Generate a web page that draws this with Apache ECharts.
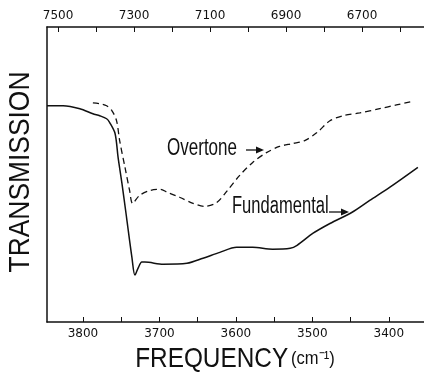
<!DOCTYPE html>
<html>
<head>
<meta charset="utf-8">
<script src="https://cdn.jsdelivr.net/npm/echarts@6/dist/echarts.min.js"></script>
<style>html,body{margin:0;padding:0;background:#fff}#c{width:424px;height:372px}</style>
</head>
<body>
<div id="c"></div>
<script>
// Fundamental (solid) — frequency in cm^-1 and relative transmission
const fundX = [3847, 3826, 3804, 3787, 3778, 3769, 3765, 3758, 3754, 3749, 3743, 3736, 3732, 3728, 3723, 3719, 3695, 3664, 3643, 3621, 3599, 3578, 3552, 3529, 3520, 3499, 3477, 3448, 3425, 3399, 3362];
const fundY = [73.3, 73.3, 72.3, 70.6, 69.9, 68.9, 67.6, 63.9, 55.7, 47.0, 35.5, 22.0, 15.9, 18.2, 20.3, 20.3, 19.6, 19.9, 21.6, 23.6, 25.3, 25.3, 24.7, 25.0, 26.0, 30.1, 33.4, 37.2, 41.2, 45.6, 52.4];
// Overtone (dashed)
const overX = [3787, 3778, 3769, 3762, 3756, 3752, 3745, 3739, 3735, 3726, 3712, 3699, 3690, 3673, 3656, 3641, 3625, 3611, 3595, 3578, 3560, 3543, 3526, 3510, 3494, 3477, 3460, 3438, 3412, 3390, 3370];
const overY = [74.3, 74.0, 73.3, 71.6, 68.2, 61.5, 52.4, 44.6, 40.2, 42.9, 44.6, 45.0, 44.0, 42.2, 40.2, 39.2, 40.5, 44.6, 49.7, 54.1, 57.4, 59.5, 60.5, 61.5, 64.2, 68.2, 69.9, 70.9, 72.3, 73.6, 74.7];
// Axis ticks / labels
const bottomTicks = [3400, 3450, 3500, 3550, 3600, 3650, 3700, 3750, 3800];
const bottomLabels = [3400, 3500, 3600, 3700, 3800];
const topTicks = [6600, 6700, 6800, 6900, 7000, 7100, 7200, 7300, 7400, 7500];
const topLabels = [6700, 6900, 7100, 7300, 7500];

const ink = '#111';
const fund = fundX.map((x, i) => [x, fundY[i]]);
const over = overX.map((x, i) => [x, overY[i]]);

const chart = echarts.init(document.getElementById('c'), null, {renderer: 'canvas'});
chart.setOption({
  animation: false,
  backgroundColor: '#fff',
  grid: {left: 47, right: 0, top: 27, bottom: 50},
  xAxis: [{
    type: 'value', position: 'bottom', min: 3354, max: 3847, inverse: true,
    axisLine: {show: true, lineStyle: {color: ink, width: 1.5}},
    axisTick: {show: true, inside: true, length: 5, customValues: bottomTicks, lineStyle: {color: ink, width: 1}},
    axisLabel: {show: true, customValues: bottomLabels, formatter: v => String(v), color: ink, fontFamily: 'DejaVu Sans', fontSize: 12, margin: 6},
    splitLine: {show: false}
  }, {
    type: 'value', position: 'top', min: 6537, max: 7529, inverse: true,
    axisLine: {show: true, lineStyle: {color: ink, width: 1.5}},
    axisTick: {show: true, inside: true, length: 5, customValues: topTicks, lineStyle: {color: ink, width: 1}},
    axisLabel: {show: true, customValues: topLabels, formatter: v => String(v), color: ink, fontFamily: 'DejaVu Sans', fontSize: 12, margin: 5},
    splitLine: {show: false}
  }],
  yAxis: {
    type: 'value', min: 0, max: 100,
    axisLine: {show: true, lineStyle: {color: ink, width: 1.5}},
    axisTick: {show: false}, axisLabel: {show: false}, splitLine: {show: false}
  },
  series: [{
    type: 'line', data: fund, showSymbol: false, smooth: 0.3,
    lineStyle: {color: ink, width: 1.5}
  }, {
    type: 'line', data: over, showSymbol: false, smooth: 0.3,
    lineStyle: {color: ink, width: 1.3, type: [6, 4]}
  }],
  graphic: [
    {type: 'text', x: 21, y: 172, rotation: Math.PI / 2, scaleX: 0.91,
     style: {text: 'TRANSMISSION', fill: ink, font: '29px "Liberation Sans"', align: 'center', verticalAlign: 'middle'}},
    {type: 'text', x: 235, y: 359, scaleX: 0.87,
     style: {text: '{a|FREQUENCY} {b|(cm⁻¹)}', fill: ink, align: 'center', verticalAlign: 'middle',
       rich: {a: {fontFamily: 'Liberation Sans', fontSize: 28, fill: ink}, b: {fontFamily: 'Liberation Sans', fontSize: 19, fill: ink}}}},
    {type: 'text', x: 167, y: 149, scaleX: 0.74,
     style: {text: 'Overtone', fill: ink, font: '23px "Liberation Sans"', align: 'left', verticalAlign: 'middle'}},
    {type: 'text', x: 232, y: 207, scaleX: 0.72,
     style: {text: 'Fundamental', fill: ink, font: '23px "Liberation Sans"', align: 'left', verticalAlign: 'middle'}},
    {type: 'line', shape: {x1: 246, y1: 150, x2: 262, y2: 150}, style: {stroke: ink, lineWidth: 1.3}},
    {type: 'polygon', shape: {points: [[264, 150], [256, 146.5], [256, 153.5]]}, style: {fill: ink}},
    {type: 'line', shape: {x1: 329, y1: 212, x2: 347, y2: 212}, style: {stroke: ink, lineWidth: 1.3}},
    {type: 'polygon', shape: {points: [[349, 212], [341, 208.5], [341, 215.5]]}, style: {fill: ink}}
  ]
});
</script>
</body>
</html>
